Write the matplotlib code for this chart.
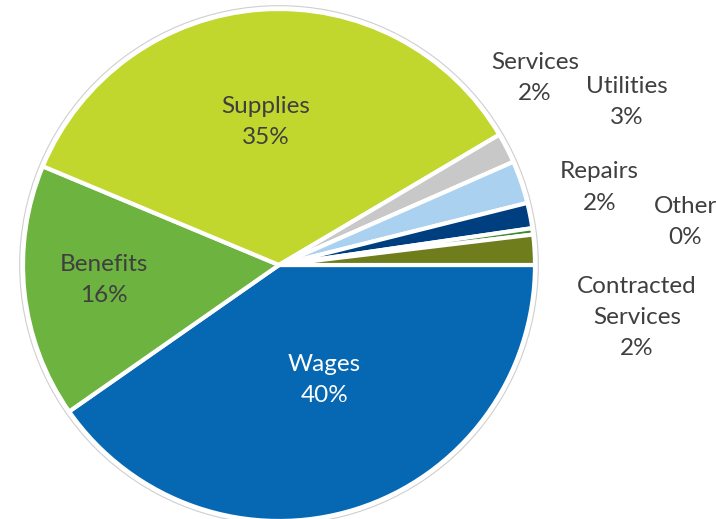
import matplotlib.pyplot as plt
from matplotlib.patches import Circle

plt.rcParams['font.family'] = ['Lato', 'DejaVu Sans']

# spending breakdown, percent of total
categories = ['Wages', 'Benefits', 'Supplies', 'Services', 'Utilities',
              'Repairs', 'Other', 'Contracted\nServices']
shares = [40.3, 16.0, 35.2, 1.9, 2.7, 1.6, 0.4, 1.9]

colors = ['#0668b3', '#6db33f', '#c2d72e', '#c8c8c8', '#aad1ef',
          '#003f7f', '#3f8a2e', '#6f7d1c']
text_colors = ['white', '#3f3f3f', '#3f3f3f', '#3f3f3f', '#3f3f3f',
               '#3f3f3f', '#3f3f3f', '#3f3f3f']
# label centres in pie units (radius 1)
label_pos = [(0.177, -0.449), (-0.685, -0.059), (-0.051, 0.559),
             (1.00, 0.732), (1.358, 0.638), (1.252, 0.303),
             (1.587, 0.169), (1.398, -0.205)]

fig = plt.figure(figsize=(7.16, 5.19), dpi=100)
ax = fig.add_axes([0, 0, 1, 1])

ax.pie(shares, colors=colors, startangle=0, counterclock=False, radius=1.0,
       wedgeprops=dict(edgecolor='white', linewidth=3))
ax.add_patch(Circle((0, 0), 1.013, fill=False, edgecolor='#cfcfcf', linewidth=0.8))

for name, v, (x, y), tc in zip(categories, shares, label_pos, text_colors):
    ax.text(x, y, f'{name}\n{v:.0f}%', ha='center', va='center',
            fontsize=17.5, color=tc, linespacing=1.6)

ax.set_xlim(-279 / 256, (716 - 279) / 256)
ax.set_ylim(-(519 - 265) / 256, 265 / 256)
ax.set_aspect('auto')
ax.axis('off')

fig.savefig('out.png', dpi=100)
